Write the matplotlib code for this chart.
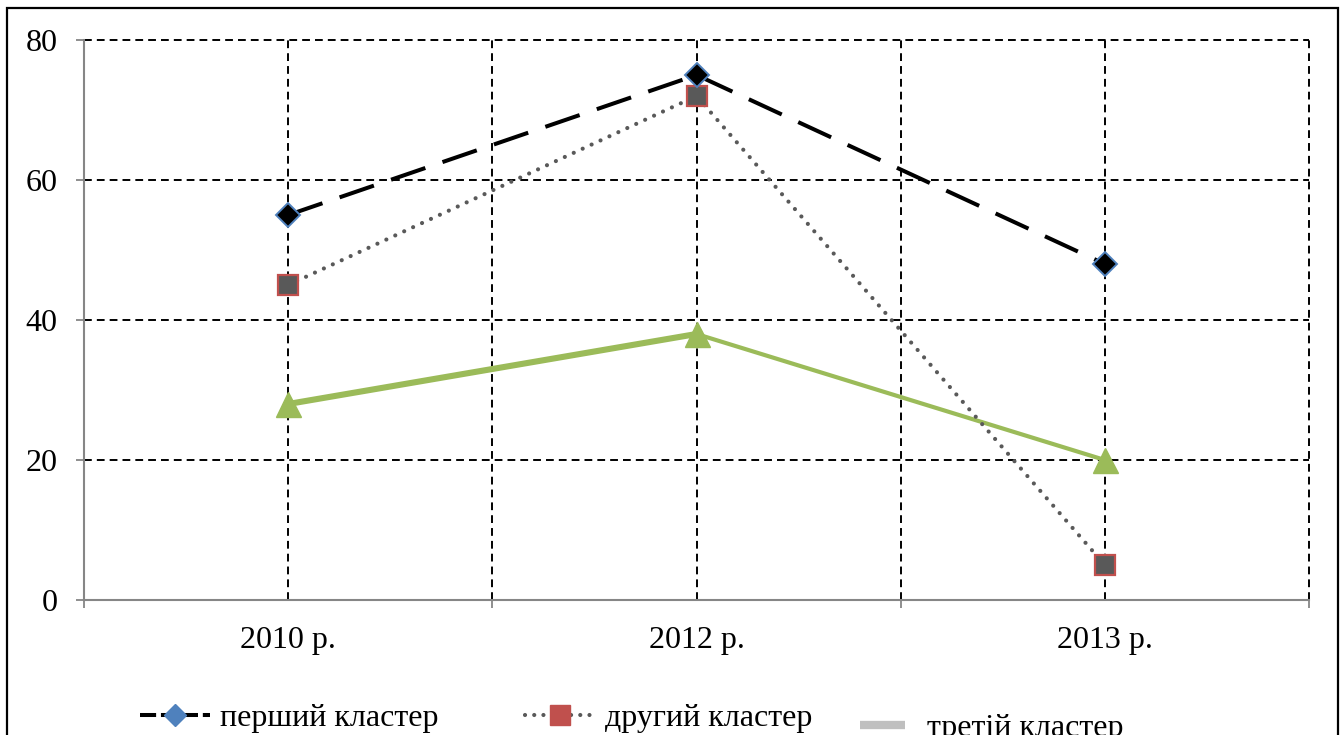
import matplotlib.pyplot as plt
from matplotlib.lines import Line2D
from matplotlib.patches import Rectangle

# Дані
roky = ["2010 р.", "2012 р.", "2013 р."]
pershyi = [55, 75, 48]
druhyi = [45, 72, 5]
tretii = [28, 38, 20]
nazvy = ["перший кластер", "другий кластер", "третій кластер"]

plt.rcParams['font.family'] = ['Liberation Serif', 'DejaVu Serif']

fig = plt.figure(figsize=(13.44, 7.35), dpi=100)
ax = fig.add_axes([84 / 1344, 1 - 600 / 735, (1309 - 84) / 1344, 560 / 735])

x = list(range(len(roky)))

# третій кластер (перший відрізок товщий, як в оригіналі)
ax.plot(x[:2], tretii[:2], color='#9BBB59', lw=4.4, solid_capstyle='butt', zorder=3)
ax.plot(x[1:], tretii[1:], color='#9BBB59', lw=3.0, solid_capstyle='butt', zorder=3)
ax.plot(x, tretii, ls='none', marker='^', ms=18, color='#9BBB59', zorder=4)

# другий кластер
ax.plot(x, druhyi, color='#595959', lw=3.0, linestyle=(0, (0.01, 2.35)),
        dash_capstyle='round', zorder=5)
ax.plot(x, druhyi, ls='none', marker='s', ms=15, mfc='#595959', mec='#C0504D',
        mew=1.6, zorder=6)

# перший кластер
ax.plot(x, pershyi, color='black', lw=2.9, linestyle=(0, (9, 4.5)), zorder=7)
ax.plot(x, pershyi, ls='none', marker='D', ms=12, mfc='black', mec='#4F81BD',
        mew=1.4, zorder=8)

ax.set_xlim(-0.5, len(roky) - 0.5)
ax.set_ylim(0, 80)
ax.set_yticks([0, 20, 40, 60, 80])
ax.set_xticks(x)
ax.set_xticklabels(roky)
ax.set_xticks([-0.5, 0.5, 1.5, 2.5], minor=True)

ax.set_axisbelow(True)
ax.grid(True, which='major', color='black', ls=(0, (4, 2.6)), lw=1.4)
ax.grid(True, which='minor', axis='x', color='black', ls=(0, (4, 2.6)), lw=1.4)
for t in ax.xaxis.get_minor_ticks() + ax.yaxis.get_major_ticks():
    t.gridline.set_clip_on(False)

for s in ['top', 'right']:
    ax.spines[s].set_visible(False)
for s in ['left', 'bottom']:
    ax.spines[s].set_color('#868686')
    ax.spines[s].set_linewidth(1.5)
    ax.spines[s].set_zorder(2.6)

ax.tick_params(axis='y', colors='#868686', labelcolor='black', length=6,
               width=1.3, labelsize=23, pad=13)
ax.tick_params(axis='x', which='major', length=0, labelsize=23, pad=19)
ax.tick_params(axis='x', which='minor', colors='#868686', length=6, width=1.3)

# легенда
h1 = Line2D([], [], color='black', lw=2.9, linestyle=(0, (4, 1.2)), marker='D',
            ms=11, mfc='#4F81BD', mec='#4F81BD')
h2 = Line2D([], [], color='#595959', lw=3.0, linestyle=(0, (0.01, 2.2)),
            dash_capstyle='round', marker='s', ms=14, mfc='#C0504D', mec='#C0504D')
h3 = Line2D([], [], color='#BFBFBF', lw=6, solid_capstyle='butt')

for h, nazva, px, py, hl, tp in [(h1, nazvy[0], 140, 718, 2.2, 0.3),
                                 (h2, nazvy[1], 525, 718, 2.2, 0.3),
                                 (h3, nazvy[2], 860, 728, 1.4, 0.7)]:
    fig.legend(handles=[h], labels=[nazva], loc='center left',
               bbox_to_anchor=(px / 1344, 1 - py / 735), frameon=False,
               fontsize=23, handlelength=hl, handletextpad=tp, borderpad=0,
               borderaxespad=0, numpoints=1)

# рамка
fig.patches.append(Rectangle((7 / 1344, -0.1), (1338 - 7) / 1344, 1.1 - 8 / 735,
                             transform=fig.transFigure, fill=False,
                             edgecolor='black', lw=1.6))

plt.savefig("out.png", dpi=100)
plt.close()
